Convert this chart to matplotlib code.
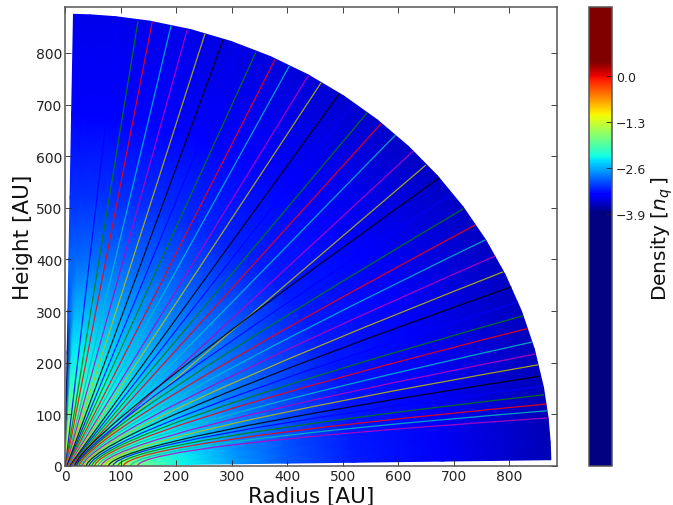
import numpy as np
import matplotlib
matplotlib.use("Agg")
import matplotlib.pyplot as plt
from matplotlib.colors import LinearSegmentedColormap, Normalize
from matplotlib.path import Path
from matplotlib.patches import PathPatch
from matplotlib.cm import ScalarMappable

# log density: rows = polar angle (deg), columns = radius (AU)
radii = [2, 30, 70, 110, 160, 220, 300, 400, 520, 680, 875]
angles = [0.8, 3, 6, 10, 15, 20, 25, 30, 35, 40, 45, 50, 55, 60, 65, 70, 75, 80, 84, 87, 89]
d00 = [-1.6, -1.7, -1.45, -1.6, -1.95, -2.3, -2.65, -2.95, -3.2, -3.4, -3.65]
d03 = [-1.6, -1.7, -1.5, -1.65, -2.0, -2.32, -2.66, -2.96, -3.2, -3.4, -3.65]
d06 = [-1.6, -1.7, -1.6, -1.75, -2.05, -2.35, -2.68, -2.97, -3.21, -3.4, -3.64]
d10 = [-1.6, -1.7, -1.75, -1.9, -2.12, -2.38, -2.7, -2.98, -3.21, -3.4, -3.63]
d15 = [-1.6, -1.72, -1.85, -2.0, -2.2, -2.42, -2.7, -2.98, -3.21, -3.4, -3.62]
d20 = [-1.6, -1.75, -1.95, -2.08, -2.25, -2.45, -2.71, -2.97, -3.21, -3.4, -3.61]
d25 = [-1.6, -1.78, -2.0, -2.13, -2.3, -2.48, -2.72, -2.96, -3.2, -3.39, -3.6]
d30 = [-1.6, -1.8, -2.02, -2.17, -2.32, -2.5, -2.72, -2.95, -3.2, -3.39, -3.59]
d35 = [-1.6, -1.8, -2.05, -2.19, -2.34, -2.51, -2.72, -2.94, -3.2, -3.38, -3.58]
d40 = [-1.6, -1.8, -2.05, -2.2, -2.35, -2.52, -2.72, -2.93, -3.2, -3.38, -3.58]
d45 = [-1.6, -1.8, -2.05, -2.2, -2.35, -2.52, -2.72, -2.92, -3.2, -3.38, -3.58]
d50 = [-1.6, -1.8, -2.03, -2.18, -2.33, -2.5, -2.7, -2.92, -3.19, -3.37, -3.56]
d55 = [-1.6, -1.78, -2.0, -2.15, -2.3, -2.47, -2.68, -2.91, -3.18, -3.36, -3.54]
d60 = [-1.6, -1.75, -1.95, -2.1, -2.27, -2.45, -2.66, -2.9, -3.16, -3.35, -3.52]
d65 = [-1.6, -1.72, -1.9, -2.05, -2.22, -2.42, -2.63, -2.88, -3.14, -3.34, -3.5]
d70 = [-1.6, -1.68, -1.85, -2.0, -2.18, -2.38, -2.6, -2.87, -3.12, -3.33, -3.48]
d75 = [-1.5, -1.58, -1.75, -1.95, -2.15, -2.35, -2.58, -2.86, -3.11, -3.32, -3.46]
d80 = [-1.4, -1.48, -1.65, -1.88, -2.12, -2.32, -2.56, -2.85, -3.1, -3.32, -3.45]
d84 = [-1.3, -1.4, -1.6, -1.85, -2.1, -2.3, -2.55, -2.85, -3.1, -3.32, -3.45]
d87 = [-1.2, -1.4, -1.65, -1.9, -2.15, -2.35, -2.58, -2.87, -3.12, -3.32, -3.45]
d89 = [-1.2, -1.6, -3.9, -4.0, -4.0, -3.9, -3.0, -2.9, -3.12, -3.32, -3.45]
density = [d00, d03, d06, d10, d15, d20, d25, d30, d35, d40, d45, d50, d55,
           d60, d65, d70, d75, d80, d84, d87, d89]

# streamlines from top to bottom: foot on the midplane, outer end, optional bend point
foot_r = [0.7, 1.0, 1.4, 1.8, 2.2, 2.7, 3.2, 3.8, 4.4, 5, 5.6, 6.3, 7, 8, 9, 10, 11, 12.5, 14, 15.5,
          17, 20, 22, 25, 28, 31, 34, 38, 43, 48, 53, 59, 65, 71, 78, 86, 95, 105, 118, 130]
end_x = [95.5, 131.5, 157, 191, 220, 252, 285, 315, 344, 378, 404, 438, 461, 494, 519, 544, 569, 595, 627, 650,
         674, 697, 717, 739, 757, 775, 789, 804, 816, 825, 832, 841, 847, 852, 856, 861, 863, 867, 868, 868]
end_y = [866, 862, 860, 853, 845, 837, 826, 814, 802, 787, 775, 756, 742, 721, 702, 684, 663, 641, 610, 583,
         558, 527, 498, 467, 438, 407, 376, 347, 318, 291, 266, 240, 217, 196, 174, 155, 138, 120, 107, 93]
bend_x = [33, 35, 38, 41, 45, 48, 52, 56, 60, 65, 69, 74, 79, 84, 90, 96, 105, 115, 127, 140]
bend_y = [65, 64, 65, 65, 66, 65, 65, 64, 62, 62, 60, 58, 55, 52, 48, 48, 46, 44, 42, 40]
line_colors = [(0, 0, 1), (0, .5, 0), (1, 0, 0), (0, .75, .75), (.75, 0, .75), (.75, .75, 0), (0, 0, 0)]

cbar_ticks = [0.0, -1.3, -2.6, -3.9]
cbar_labels = ["0.0", "\u22121.3", "\u22122.6", "\u22123.9"]
x_ticks = [0, 100, 200, 300, 400, 500, 600, 700, 800]
y_ticks = [0, 100, 200, 300, 400, 500, 600, 700, 800]

W, H = 673, 506
fig = plt.figure(figsize=(W / 100, H / 100), dpi=100)
plt.rcParams['font.family'] = 'DejaVu Sans'
ax = fig.add_axes([65 / W, 1 - 467 / H, 492 / W, 459 / H])
cax = fig.add_axes([589 / W, 1 - 467 / H, 23 / W, 459 / H])

# colour scale: jet between -3.84 and 0.42, flat navy and dark red beyond
vmin, vmax = -11.0, 1.95
lo, hi = -3.84, 0.42
jet = matplotlib.colormaps['jet']
stops = [(0.0, jet(0.0)), ((lo - vmin) / (vmax - vmin), jet(0.0))]
for f in np.linspace(0, 1, 65)[1:-1]:
    stops.append((((lo + f * (hi - lo)) - vmin) / (vmax - vmin), jet(f)))
stops += [((hi - vmin) / (vmax - vmin), jet(1.0)), (1.0, jet(1.0))]
cmap = LinearSegmentedColormap.from_list("jet_clipped", stops, N=1024)
norm = Normalize(vmin, vmax)

R, T = np.meshgrid(radii, np.radians(angles))
ax.pcolormesh(R * np.cos(T), R * np.sin(T), np.array(density), cmap=cmap, norm=norm,
              shading='gouraud', rasterized=True)

for i, (f, ex, ey) in enumerate(zip(foot_r, end_x, end_y)):
    col = line_colors[i % 7]
    j = i - (len(foot_r) - len(bend_x))
    if j >= 0:
        verts = [(f, 0), (bend_x[j], bend_y[j]), (ex, ey)]
        codes = [Path.MOVETO, Path.CURVE3, Path.CURVE3]
    else:
        verts = [(f, 0), (ex, ey)]
        codes = [Path.MOVETO, Path.LINETO]
    p = PathPatch(Path(verts, codes), fc='none', ec=col, lw=0.9, alpha=0.85)
    p.set_snap(False)
    ax.add_patch(p)

ax.set_xlim(0, 886)
ax.set_ylim(0, 889)
ax.set_xticks(x_ticks)
ax.set_yticks(y_ticks)
ax.tick_params(direction='in', top=True, right=True, length=4, width=0.6,
               labelsize=10, colors='#222222', pad=2)
ax.set_xlabel("Radius [AU]", fontsize=15.5, color='#111111', labelpad=2)
ax.set_ylabel("Height [AU]", fontsize=15.5, color='#111111', labelpad=2)
for s in ax.spines.values():
    s.set_color('#555555')
    s.set_linewidth(1.1)

cb = fig.colorbar(ScalarMappable(norm=norm, cmap=cmap), cax=cax)
cb.set_ticks(cbar_ticks)
cb.set_ticklabels(cbar_labels)
cb.ax.tick_params(direction='in', length=4, width=0.6, labelsize=9, colors='#222222', pad=3)
cb.set_label(r"Density [$n_q\,$]", fontsize=14.5, color='#111111')
cb.ax.yaxis.set_label_coords(2.62, 0.497)
cb.ax.yaxis.label.set_verticalalignment('top')
cb.outline.set_edgecolor('#555555')
cb.outline.set_linewidth(1.1)

fig.savefig("out.png", dpi=100)
